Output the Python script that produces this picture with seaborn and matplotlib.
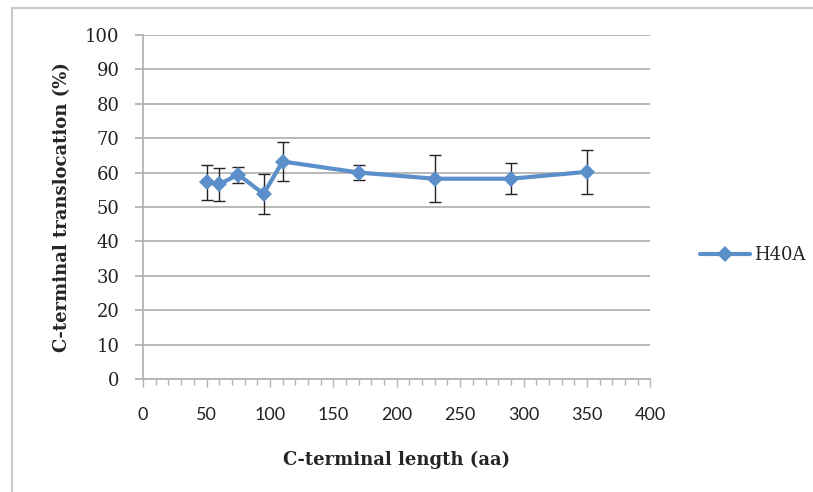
import pandas as pd
import matplotlib.pyplot as plt
import seaborn as sns
from matplotlib.patches import Rectangle
from matplotlib.ticker import MultipleLocator

length = [50, 60, 75, 95, 110, 170, 230, 290, 350]
translocation = [57.2, 56.6, 59.4, 53.8, 63.2, 60.0, 58.2, 58.2, 60.2]
err_low = [51.9, 51.7, 57.1, 48.0, 57.4, 57.8, 51.5, 53.7, 53.7]
err_high = [62.2, 61.2, 61.5, 59.6, 69.0, 62.1, 65.2, 62.9, 66.6]

df = pd.DataFrame({'length': length, 'translocation': translocation, 'series': 'H40A'})

sns.set_style("white")
blue = '#5a8fca'
grid = '#b3b3b3'
serif = 'DejaVu Serif'

fig = plt.figure(figsize=(8.13, 4.92), dpi=100)
ax = fig.add_axes([0.176, 0.2297, 0.624, 0.6994])

yerr = [[t - lo for t, lo in zip(translocation, err_low)],
        [hi - t for t, hi in zip(translocation, err_high)]]
ax.errorbar(length, translocation, yerr=yerr, fmt='none', ecolor='#222222',
            elinewidth=1.0, capsize=4, capthick=1.0, zorder=3)
sns.lineplot(data=df, x='length', y='translocation', hue='series', palette=[blue],
             marker='D', markersize=8, markeredgewidth=0, linewidth=3, ax=ax, zorder=4)

ax.set_xlim(0, 400)
ax.set_ylim(0, 100)
ax.xaxis.set_major_locator(MultipleLocator(50))
ax.xaxis.set_minor_locator(MultipleLocator(10))
ax.yaxis.set_major_locator(MultipleLocator(10))
ax.yaxis.grid(True, color=grid, linewidth=1.3)
ax.set_axisbelow(True)
for s in ['top', 'right']:
    ax.spines[s].set_visible(False)
for s in ['left', 'bottom']:
    ax.spines[s].set_color(grid)
    ax.spines[s].set_linewidth(1.3)

ax.tick_params(axis='y', which='major', direction='out', length=6, width=1.3, color=grid,
               pad=11, left=True)
ax.tick_params(axis='x', which='major', direction='out', length=6, width=1.0, color=grid,
               pad=14, bottom=True)
ax.tick_params(axis='x', which='minor', direction='out', length=4, width=1.0, color=grid,
               bottom=True)
for lab in ax.get_yticklabels():
    lab.set_fontfamily(serif)
    lab.set_fontsize(13)
    lab.set_color('#222222')
for lab in ax.get_xticklabels():
    lab.set_fontfamily('Lato')
    lab.set_fontsize(13)
    lab.set_color('#222222')

ax.set_xlabel('C-terminal length (aa)', fontfamily=serif, fontweight='bold',
              fontsize=13, labelpad=20)
ax.set_ylabel('C-terminal translocation (%)', fontfamily=serif, fontweight='bold',
              fontsize=13, labelpad=10)

leg = ax.legend(loc='center left', bbox_to_anchor=(1.065, 0.36), frameon=False,
                prop={'family': serif, 'size': 13}, handlelength=2.8,
                handletextpad=0.2)

fig.patches.append(Rectangle((12 / 813, -0.1), 1.2, 1 - 8 / 492 + 0.1, transform=fig.transFigure,
                             fill=False, edgecolor='#c8c8c8', linewidth=1.5))

fig.savefig('out.png', dpi=100)
